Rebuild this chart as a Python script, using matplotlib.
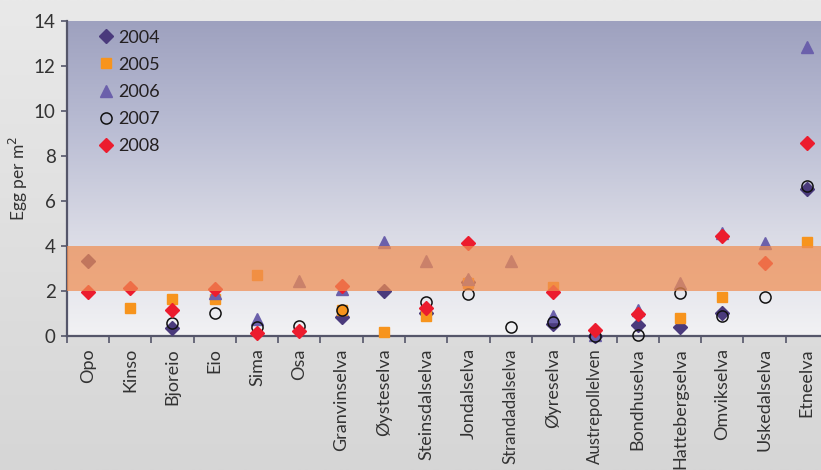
import numpy as np
import matplotlib.pyplot as plt
from matplotlib.colors import LinearSegmentedColormap

nan = np.nan

# Rivers (x categories)
rivers = ['Opo', 'Kinso', 'Bjoreio', 'Eio', 'Sima', 'Osa', 'Granvinselva',
          'Øysteselva', 'Steinsdalselva', 'Jondalselva', 'Strandadalselva',
          'Øyreselva', 'Austrepollelven', 'Bondhuselva', 'Hattebergselva',
          'Omvikselva', 'Uskedalselva', 'Etneelva']

# Egg densities (egg per m2)
y2004 = [3.33, nan, 0.33, nan, nan, nan, 0.82, 1.98, 1.00, 2.40, nan,
         0.52, 0.00, 0.49, 0.37, 1.00, nan, 6.52]
y2005 = [nan, 1.23, 1.63, 1.63, 2.70, nan, 1.15, 0.15, 0.86, 2.33, nan,
         2.18, nan, nan, 0.77, 1.70, nan, 4.15]
y2006 = [nan, nan, nan, 1.90, 0.74, 2.44, 2.07, 4.15, 3.33, 2.52, 3.30,
         0.89, 0.02, 1.14, 2.33, 4.55, 4.10, 12.81]
y2007 = [nan, nan, 0.56, 0.99, 0.37, 0.41, 1.16, nan, 1.51, 1.85, 0.37,
         0.62, 0.00, 0.04, 1.91, 0.89, 1.73, 6.64]
y2008 = [1.93, 2.12, 1.14, 2.07, 0.12, 0.22, 2.22, nan, 1.21, 4.10, nan,
         1.93, 0.27, 0.96, nan, 4.44, 3.21, 8.55]

# band of "target" density
band_lo, band_hi = 2, 4

W, H = 821, 470
fig = plt.figure(figsize=(W / 100, H / 100), dpi=100)

# figure background gradient
bg = fig.add_axes([0, 0, 1, 1], zorder=-10)
bg_cmap = LinearSegmentedColormap.from_list('bg', ['#d6d6d6', '#e9e9e9'])
bg.imshow(np.linspace(0, 1, 256).reshape(-1, 1), aspect='auto', cmap=bg_cmap,
          extent=[0, 1, 0, 1], origin='lower')
bg.axis('off')

left = 66.7 / W
bottom = (H - 335.7) / H
top = (H - 20.7) / H
width = (828 - 66.7) / W
ax = fig.add_axes([left, bottom, width, top - bottom])

x = np.arange(len(rivers))
ax.set_xlim(-0.5, len(rivers) - 0.5)
ax.set_ylim(0, 14)

# plot area gradient
pa_cmap = LinearSegmentedColormap.from_list('pa', ['#f2f2f4', '#d9dae5', '#b9bcd3', '#9ea1bf'])
ax.imshow(np.linspace(0, 1, 256).reshape(-1, 1), aspect='auto', cmap=pa_cmap,
          extent=[-0.5, len(rivers) - 0.5, 0, 14], origin='lower', zorder=0)

ms = dict(linestyle='none', zorder=3, clip_on=False)
ax.plot(x, y2004, marker='D', markersize=7, color='#4a3a7c', label='2004', **ms)
ax.plot(x, y2005, marker='s', markersize=7, color='#f7941d', label='2005', **ms)
ax.plot(x, y2006, marker='^', markersize=9, color='#6b60ab', label='2006', **ms)
ax.plot(x, y2007, marker='o', markersize=8, markerfacecolor='none',
        markeredgecolor='#111111', markeredgewidth=1.1, label='2007', **ms)
ax.plot(x, y2008, marker='D', markersize=7, color='#ec1c2e', label='2008', **ms)

ax.axhspan(band_lo, band_hi, color='#f08e52', alpha=0.72, lw=0, zorder=4)

for s in ['top', 'right']:
    ax.spines[s].set_visible(False)
for s in ['left', 'bottom']:
    ax.spines[s].set_color('#55566a')
    ax.spines[s].set_linewidth(1.6)
    ax.spines[s].set_zorder(2.5)

ax.set_yticks(np.arange(0, 15, 2))
ax.set_yticklabels([str(v) for v in range(0, 15, 2)], fontsize=13.5, color='#333333',
                   family='Lato')
ax.tick_params(axis='y', length=4, width=1.2, color='#55566a', pad=4)

ax.set_xticks(x)
ax.set_xticklabels(rivers, rotation=90, fontsize=13, color='#333333', family='Lato')
# the two longest names are a touch smaller so they fit in the figure
for lab in ax.get_xticklabels():
    if len(lab.get_text()) > 14:
        lab.set_fontsize(12.1)
ax.set_xticks(np.arange(-0.5, len(rivers)), minor=True)
ax.tick_params(axis='x', which='major', length=0, pad=9)
ax.tick_params(axis='x', which='minor', length=5, width=1.2, color='#55566a')

ax.set_ylabel('Egg per m$^2$', fontsize=12.5, color='#333333', family='Lato', labelpad=3)

leg = ax.legend(loc='upper left', bbox_to_anchor=(0.028, 1.012), frameon=False,
                handlelength=0.6, handletextpad=0.35, labelspacing=0.62,
                prop={'family': 'Lato', 'size': 13}, borderaxespad=0.3)
for t in leg.get_texts():
    t.set_color('#231f20')

fig.savefig('out.png', dpi=100, facecolor='#e6e6e6')
